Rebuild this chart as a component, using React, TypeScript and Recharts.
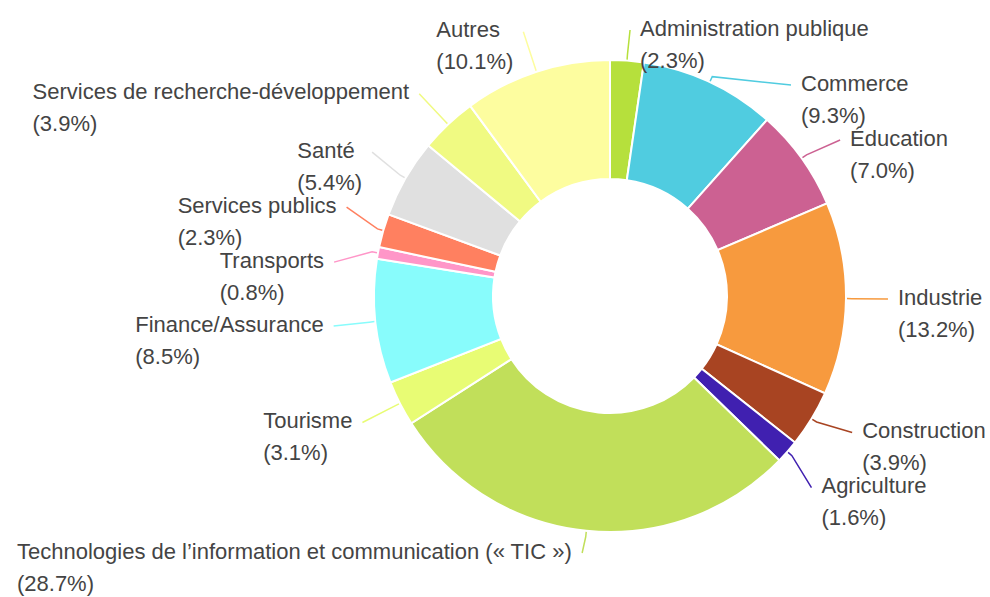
import React from "react";
import { PieChart, Pie, Cell } from "recharts";

const CATEGORIES = [
  "Administration publique",
  "Commerce",
  "Éducation",
  "Industrie",
  "Construction",
  "Agriculture",
  "Technologies de l’information et communication (« TIC »)",
  "Tourisme",
  "Finance/Assurance",
  "Transports",
  "Services publics",
  "Santé",
  "Services de recherche-développement",
  "Autres",
];

const SHARES = [2.3, 9.3, 7.0, 13.2, 3.9, 1.6, 28.7, 3.1, 8.5, 0.8, 2.3, 5.4, 3.9, 10.1];

const COLORS = [
  "#b6e03c",
  "#50cce0",
  "#cc6192",
  "#f79a3e",
  "#a84422",
  "#4020b0",
  "#c1df5a",
  "#e8fc74",
  "#88fcfc",
  "#ff96c8",
  "#ff8060",
  "#e0e0e0",
  "#f0fa82",
  "#fdfd9f",
];

const W = 990;
const H = 597;
const FONT_SIZE = 22;
const FONT_FAMILY = '"Liberation Sans", Arial, sans-serif';
const LINE_GAP = 32;
const SPACING = 55;
const TEXT_COLOR = "#444444";

const data = CATEGORIES.map((name, i) => ({ name, value: SHARES[i] }));

let measureCtx: CanvasRenderingContext2D | null = null;
function textWidth(s: string): number {
  if (!measureCtx) {
    const c = document.createElement("canvas");
    measureCtx = c.getContext("2d");
  }
  if (!measureCtx) return s.length * FONT_SIZE * 0.5;
  measureCtx.font = `${FONT_SIZE}px ${FONT_FAMILY}`;
  return measureCtx.measureText(s).width;
}

type LabelPos = { x: number; y: number; right: boolean };
let layoutCache: { key: string; pos: LabelPos[] } | null = null;

function computeLayout(cx: number, cy: number, R: number): LabelPos[] {
  const key = `${cx}-${cy}-${R}`;
  if (layoutCache && layoutCache.key === key) return layoutCache.pos;
  const Rl = R + 42;
  const total = SHARES.reduce((a, b) => a + b, 0);
  let cum = 0;
  const items = SHARES.map((v, i) => {
    const theta = ((cum + v / 2) / total) * Math.PI * 2;
    cum += v;
    return {
      i,
      theta,
      right: theta < Math.PI,
      ny: cy - Rl * Math.cos(theta),
      nx: cx + Rl * Math.sin(theta),
    };
  });
  const pos: LabelPos[] = new Array(SHARES.length);
  const yMin = 30;
  const yMax = H - 44;
  [true, false].forEach((side) => {
    const list = items.filter((it) => it.right === side).sort((a, b) => a.ny - b.ny);
    type Cl = { members: number[]; sum: number; start: number };
    const clusters: Cl[] = [];
    list.forEach((it, k) => {
      clusters.push({ members: [k], sum: it.ny, start: it.ny });
      while (clusters.length > 1) {
        const a = clusters[clusters.length - 2];
        const b = clusters[clusters.length - 1];
        if (a.start + a.members.length * SPACING > b.start) {
          const members = a.members.concat(b.members);
          const sum = a.sum + b.sum;
          const n = members.length;
          clusters.splice(clusters.length - 2, 2, {
            members,
            sum,
            start: sum / n - ((n - 1) * SPACING) / 2,
          });
        } else break;
      }
    });
    const ys: number[] = new Array(list.length);
    clusters.forEach((c) => c.members.forEach((m, j) => (ys[m] = c.start + j * SPACING)));
    for (let k = 0; k < ys.length; k++) {
      ys[k] = Math.max(ys[k], k === 0 ? yMin : ys[k - 1] + SPACING);
    }
    for (let k = ys.length - 1; k >= 0; k--) {
      ys[k] = Math.min(ys[k], k === ys.length - 1 ? yMax : ys[k + 1] - SPACING);
    }
    list.forEach((it, k) => {
      const y = ys[k];
      const dy = y - cy;
      let x: number;
      if (Math.abs(dy) / Rl < 0.9) {
        const dx = Math.sqrt(Math.max(Rl * Rl - dy * dy, 0));
        x = side ? cx + dx : cx - dx;
      } else {
        x = it.nx;
      }
      pos[it.i] = { x, y, right: side };
    });
  });
  layoutCache = { key, pos };
  return pos;
}

const RAD = Math.PI / 180;

function renderLabel(props: any) {
  const { cx, cy, midAngle, outerRadius, index } = props;
  const layout = computeLayout(cx, cy, outerRadius);
  const p = layout[index];
  const color = COLORS[index];
  const cos = Math.cos(-midAngle * RAD);
  const sin = Math.sin(-midAngle * RAD);
  const x0 = cx + (outerRadius + 1) * cos;
  const y0 = cy + (outerRadius + 1) * sin;
  const x1 = cx + (outerRadius + 6) * cos;
  const y1 = cy + (outerRadius + 6) * sin;
  const name = CATEGORIES[index];
  const pct = `(${SHARES[index].toFixed(1)}%)`;
  let tx: number;
  if (p.right) {
    tx = p.x + 10;
  } else {
    const bw = Math.max(textWidth(name), textWidth(pct));
    tx = p.x - 10 - bw;
  }
  const ty = p.y - 2;
  return (
    <g key={`lbl-${index}`}>
      <polyline
        points={`${x0},${y0} ${x1},${y1} ${p.x},${p.y}`}
        fill="none"
        stroke={color}
        strokeWidth={1.5}
      />
      <text
        x={tx}
        y={ty}
        fill={TEXT_COLOR}
        fontSize={FONT_SIZE}
        fontFamily={FONT_FAMILY}
        textAnchor="start"
        dominantBaseline="central"
      >
        {name}
      </text>
      <text
        x={tx}
        y={ty + LINE_GAP}
        fill={TEXT_COLOR}
        fontSize={FONT_SIZE}
        fontFamily={FONT_FAMILY}
        textAnchor="start"
        dominantBaseline="central"
      >
        {pct}
      </text>
    </g>
  );
}

export default function App() {
  return (
    <div
      style={{
        position: "absolute",
        left: 0,
        top: 0,
        width: W,
        height: H,
        background: "#ffffff",
      }}
    >
      <PieChart width={W} height={H} margin={{ top: 0, right: 0, bottom: 0, left: 0 }}>
        <Pie
          data={data}
          dataKey="value"
          nameKey="name"
          cx={610}
          cy={296}
          outerRadius={236}
          innerRadius={117}
          startAngle={90}
          endAngle={-270}
          stroke="#ffffff"
          strokeWidth={2}
          label={renderLabel}
          labelLine={false}
          isAnimationActive={false}
        >
          {data.map((d, i) => (
            <Cell key={d.name} fill={COLORS[i]} />
          ))}
        </Pie>
      </PieChart>
    </div>
  );
}
